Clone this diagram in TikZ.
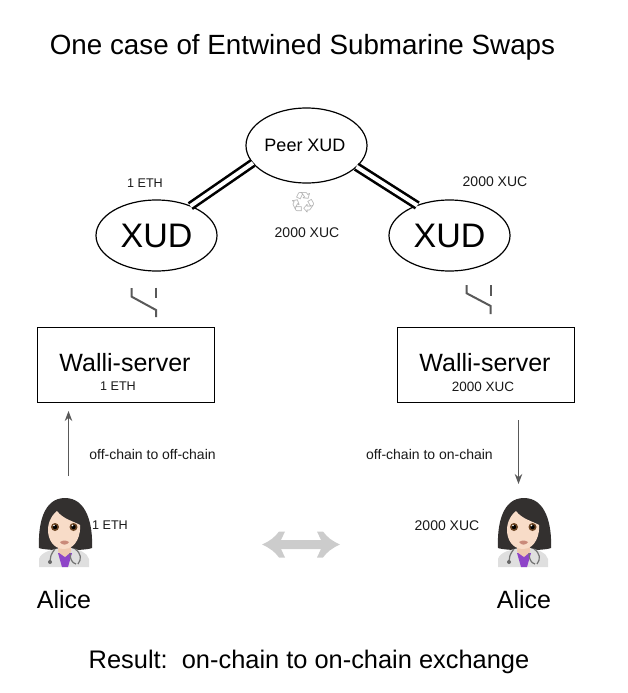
\documentclass[tikz,border=0pt]{standalone}
\usepackage{fontspec}
\setmainfont{Liberation Sans}
\newfontfamily\emojifont{Noto Emoji}
\usetikzlibrary{shapes.geometric,arrows.meta}
\newcommand{\fsz}[1]{\fontsize{#1pt}{#1pt}\selectfont}
\definecolor{skin}{HTML}{F8DCC8}
\definecolor{skinshade}{HTML}{EFC9B0}
\definecolor{hairc}{HTML}{33302F}
\definecolor{coatc}{HTML}{DFDFDF}
\definecolor{shirtc}{HTML}{8E44C8}
\definecolor{lipc}{HTML}{C98A7A}
\definecolor{irisc}{HTML}{6B4423}
\tikzset{
  x=1pt,y=-1pt,
  xudnode/.style={draw=black,ellipse,line width=1.2pt,inner sep=0pt,outer sep=0pt,minimum width=121pt,minimum height=71pt,font=\fsz{34}},
  peernode/.style={draw=black,ellipse,line width=1.2pt,inner sep=0pt,outer sep=0pt,minimum width=121pt,minimum height=75pt,font=\fsz{18}},
  boxnode/.style={draw=black,line width=0.9pt,inner sep=0pt,outer sep=0pt,minimum width=177.5pt,minimum height=75pt,align=center},
  link/.style={line width=2.6pt,draw=black,double=white,double distance=4pt},
  smalltext/.style={inner sep=0pt,font=\fsz{12.6},text=black!90},
  xuctext/.style={inner sep=0pt,font=\fsz{14},text=black!90},
  bigtext/.style={inner sep=0pt,font=\fsz{25}},
  thinarrow/.style={draw=black!65,line width=1pt,-{Stealth[length=10pt,width=7.5pt]}},
  switchline/.style={draw=black!65,line width=2pt},
  grayarrow/.style={fill=black!20,draw=none},
  alice/.pic={
    % hair
    \fill[hairc] (-26,15) .. controls (-27,-8) and (-22,-35) .. (0,-35) .. controls (22,-35) and (28,-8) .. (27,15) .. controls (20,18) and (-18,18) .. (-26,15) -- cycle;
    % coat
    \fill[coatc] (-26,34) -- (-26,26) .. controls (-24,19) and (-14,17) .. (-5,15) -- (6,15) .. controls (14,17) and (22,19) .. (24,26) -- (24,34) -- cycle;
    % shirt
    \fill[shirtc] (-7,20) -- (7,20) -- (3,34) -- (-3,34) -- cycle;
    % neck
    \fill[skinshade] (-7,8) -- (6,8) -- (6,19) -- (0,24) -- (-7,19) -- cycle;
    % face
    \fill[skin] (-17,-3) .. controls (-17,-12) and (-12,-19) .. (-8,-22) .. controls (-2,-14) and (8,-12) .. (15,-8) .. controls (16,0) and (12,16) .. (-1,16) .. controls (-12,16) and (-17,6) .. (-17,-3) -- cycle;
    % eyes
    \fill[irisc] (-10,-6) circle (4pt) (8.5,-6) circle (4pt);
    \fill[black] (-10,-6) circle (2.2pt) (8.5,-6) circle (2.2pt);
    \fill[white] (-11,-7.5) circle (0.9pt) (7.5,-7.5) circle (0.9pt);
    % mouth
    \fill[lipc] (-5,9) .. controls (-2,7) and (1,7) .. (4,9) .. controls (2,12.5) and (-3,12.5) .. (-5,9) -- cycle;
    % stethoscope
    \draw[black!55,line width=1.2pt] (-10,16) .. controls (-14,21) and (-15,24) .. (-15,28) (10,16) .. controls (16,20) and (17,26) .. (13,31) (5,20) .. controls (5,26) and (7,30) .. (11,31);
    \fill[black!60] (-15,29) circle (2pt);
  }
}
\begin{document}
\begin{tikzpicture}
\useasboundingbox (0,0) rectangle (627,693);

\node[inner sep=0pt,font=\fsz{27.8}] (title) at (302.5,47) {One case of Entwined Submarine Swaps};

\node[peernode] (peer) at (306.5,145.5) {\hspace*{-3pt}Peer XUD};
\node[xudnode] (xudl) at (156.5,235.5) {\raisebox{-1pt}{XUD}};
\node[xudnode] (xudr) at (449.5,235.5) {\raisebox{-1pt}{XUD}};

\draw[link] (xudl.41) -- (peer.198);
\draw[link] (xudr.137) -- (peer.-23);

\node[smalltext] (lbla) at (145,183.5) {1 ETH};
\node[xuctext] (lblb) at (495,181.5) {2000 XUC};
\node[xuctext] (lblc) at (307,232.5) {2000 XUC};
\node[inner sep=0pt,font={\emojifont\fsz{20}},text=black!30] (recycle) at (303,203) {♻};

% switch symbols
\coordinate (swla) at (131.7,288);
\coordinate (swlb) at (131.7,296.7);
\coordinate (swlc) at (156,310);
\coordinate (swld) at (156,317);
\coordinate (swle) at (156,287.7);
\coordinate (swlf) at (156,298.3);
\draw[switchline] (swla) -- (swlb) -- (swlc) -- (swld);
\draw[switchline] (swle) -- (swlf);
\coordinate (swra) at (466.7,285);
\coordinate (swrb) at (466.7,293.3);
\coordinate (swrc) at (490.7,306);
\coordinate (swrd) at (490.7,314);
\coordinate (swre) at (490.7,285);
\coordinate (swrf) at (490.7,295.7);
\draw[switchline] (swra) -- (swrb) -- (swrc) -- (swrd);
\draw[switchline] (swre) -- (swrf);

\node[boxnode] (boxl) at (125.75,364.5) {};
\node[boxnode] (boxr) at (485.75,364.5) {};
\node[bigtext] (wl) at (125,362.5) {Walli-server};
\node[bigtext] (wr) at (485,362.5) {Walli-server};
\node[smalltext] (wlv) at (118,386.5) {1 ETH};
\node[xuctext,font=\fsz{13.5}] (wrv) at (483,386.5) {2000 XUC};

\coordinate (al) at (68.5,476);
\coordinate (bl) at (68.5,411);
\draw[thinarrow] (al) -- (bl);
\coordinate (br) at (518.5,420);
\coordinate (ar) at (518.5,484);
\draw[thinarrow] (br) -- (ar);

\node[xuctext] (ofa) at (152.5,454.5) {off-chain to off-chain};
\node[xuctext] (ofb) at (429.5,454.5) {off-chain to on-chain};

\pic at (65,533) {alice};
\pic at (524,533) {alice};

\node[smalltext] (ethl) at (110,525.5) {1 ETH};
\node[xuctext] (xucr) at (447,525.5) {2000 XUC};

\fill[grayarrow] (262,544.5) .. controls (270,541) and (275,537) .. (279,531.5) -- (285,531.5) -- (281,540) -- (321,540) -- (317,531.5) -- (323,531.5) .. controls (327,537) and (332,541) .. (340,544.5) .. controls (332,548) and (327,552) .. (323,557.5) -- (317,557.5) -- (321,549) -- (281,549) -- (285,557.5) -- (279,557.5) .. controls (275,552) and (270,548) .. (262,544.5) -- cycle;

\node[bigtext] (alicel) at (64,600) {Alice};
\node[bigtext] (alicer) at (524,600) {Alice};

\node[inner sep=0pt,font=\fsz{25.4}] (result) at (309,661.5) {Result:\ \ on-chain to on-chain exchange};
\end{tikzpicture}
\end{document}
